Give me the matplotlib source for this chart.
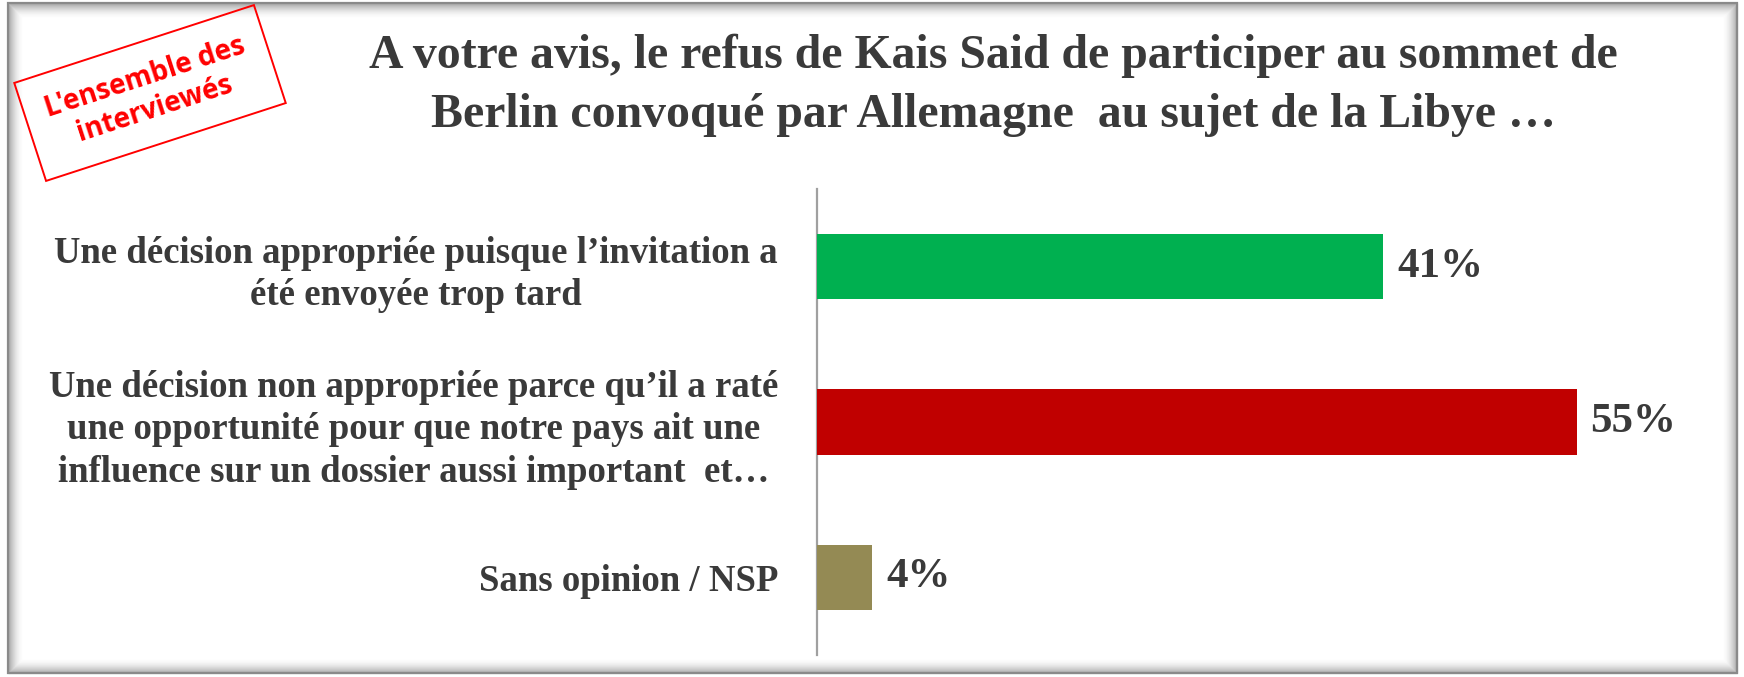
import matplotlib
matplotlib.use("Agg")
import matplotlib.pyplot as plt
from matplotlib.patches import Rectangle
from matplotlib.transforms import IdentityTransform

categories = [
    "Une décision appropriée puisque l\u2019invitation a\nété envoyée trop tard",
    "Une décision non appropriée parce qu\u2019il a raté\nune opportunité pour que notre pays ait une\ninfluence sur un dossier aussi important  et\u2026",
    "Sans opinion / NSP",
]
values = [41, 55, 4]
value_labels = ["41%", "55%", "4%"]
colors = ["#00B050", "#C00000", "#948A54"]
title_lines = [
    "A votre avis, le refus de Kais Said de participer au sommet de",
    "Berlin convoqué par Allemagne  au sujet de la Libye \u2026",
]
stamp_text = "L'ensemble des\ninterviewés"

W, H = 1744, 677
fig = plt.figure(figsize=(W / 100, H / 100), dpi=100)
fig.patch.set_facecolor("white")

serif = "Liberation Serif"
txtcol = "#3a3a3a"

# frame with inner shadow
L, R, B, T = 8, 1737, 4, 674
for i in range(16):
    a = 0.30 * (1 - i / 16) ** 2
    fig.patches.append(Rectangle((L + i, B + i), (R - L) - 2 * i, (T - B) - 2 * i,
                                 fill=False, edgecolor="black", alpha=a, lw=0.9,
                                 transform=IdentityTransform(), zorder=0))
fig.patches.append(Rectangle((L, B), R - L, T - B, fill=False, edgecolor="#8a8a8a",
                             lw=1.6, transform=IdentityTransform(), zorder=1))

ax = fig.add_axes([817 / W, 22 / H, 883 / W, (655 - 189) / H])
ypos = list(range(len(categories)))
ax.barh(ypos, values, height=0.42, color=colors, zorder=3)
ax.set_ylim(len(categories) - 0.5, -0.5)
ax.set_xlim(0, 883 / 13.81)
for y, v, lab in zip(ypos, values, value_labels):
    ax.annotate(lab, (v, y), xytext=(10, 0), textcoords="offset points",
                ha="left", va="center", fontsize=31, fontweight="bold",
                family=serif, color=txtcol)

ax.set_yticks(ypos)
ax.set_yticklabels(categories, fontsize=26.5, fontweight="bold", family=serif, color=txtcol)
for t in ax.get_yticklabels():
    t.set_multialignment("center")
    t.set_linespacing(1.29)
ax.tick_params(axis="y", length=0, pad=28)
ax.set_xticks([])
for s in ["top", "right", "bottom"]:
    ax.spines[s].set_visible(False)
ax.spines["left"].set_color("#a0a0a0")
ax.spines["left"].set_linewidth(1.6)
ax.set_facecolor("none")

# title
fig.text(993 / W, 1 - 56 / H, title_lines[0], ha="center", va="center",
         fontsize=34.4, fontweight="bold", family=serif, color=txtcol)
fig.text(993 / W, 1 - 115 / H, title_lines[1], ha="center", va="center",
         fontsize=34.4, fontweight="bold", family=serif, color=txtcol)

# stamp
cx, cy = 150, H - 93
sw, sh = 252, 103
fig.patches.append(Rectangle((cx - sw / 2, cy - sh / 2), sw, sh, angle=18,
                             rotation_point="center", fill=False, edgecolor="#FF0000",
                             lw=1.4, transform=IdentityTransform(), zorder=5))
fig.text(cx / W, cy / H, stamp_text, ha="center", va="center", rotation=18,
         rotation_mode="anchor", fontsize=20, fontweight="bold", family="Open Sans",
         color="#FF0000", linespacing=1.15, multialignment="center")

fig.savefig("out.png", dpi=100)
